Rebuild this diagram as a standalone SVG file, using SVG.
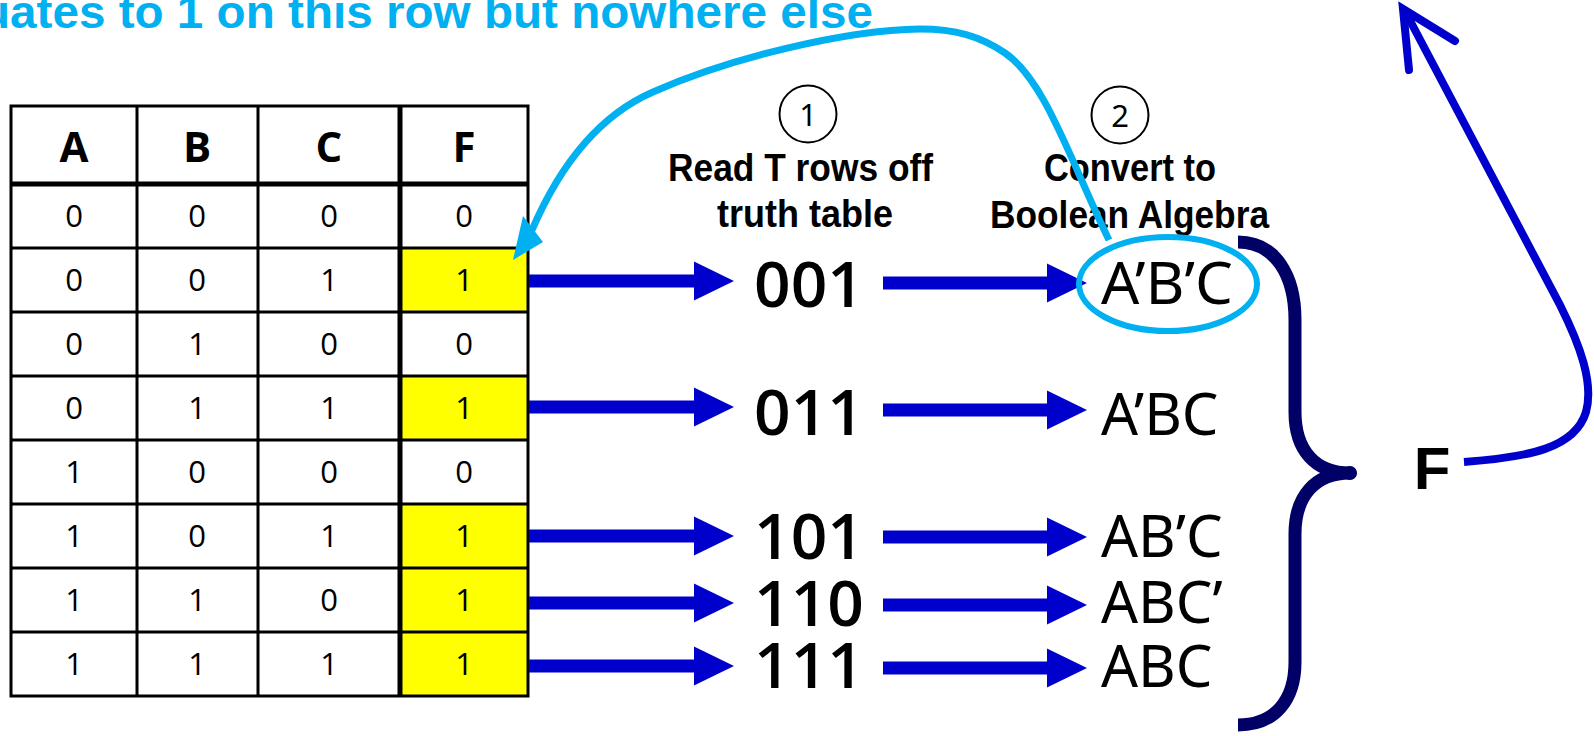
<svg xmlns="http://www.w3.org/2000/svg" width="1594" height="736" viewBox="0 0 1594 736">
<style>
.cell{font-family:"Open Sans","Noto Sans",sans-serif;font-size:31px;text-anchor:middle;fill:#000}
.hdr{font-family:"Open Sans","Noto Sans",sans-serif;font-size:42px;font-weight:bold;text-anchor:middle;fill:#000}
.bits{font-family:"Open Sans","Noto Sans",sans-serif;font-size:64px;font-weight:600;text-anchor:middle;fill:#000}
.term{font-family:"Noto Sans","Open Sans",sans-serif;font-size:58px;fill:#000}
.label{font-family:"Liberation Sans",Arial,sans-serif;font-size:38px;font-weight:bold;fill:#000}
.num{font-family:"Noto Sans","Open Sans",sans-serif;font-size:31px;text-anchor:middle;fill:#000}
.thin{stroke:#000;stroke-width:3;fill:none}
.thick{stroke:#000;stroke-width:5;fill:none}
.yel{fill:#FFFF00}
.shaft{stroke:#0000CC;stroke-width:13;fill:none}
.headc{fill:#0000CC}
</style>
<defs>
<polygon id="ah" class="headc" points="0,-19.5 40,0 0,19.5"/>
</defs>
<rect width="1594" height="736" fill="#fff"/>

<g id="caption">
<text x="-19" y="28" font-family="Liberation Sans, Arial, sans-serif" font-size="46" font-weight="bold" fill="#00B0F0" textLength="892" lengthAdjust="spacingAndGlyphs">uates to 1 on this row but nowhere else</text>
</g>

<g id="truth-table">
<rect class="yel" x="401" y="248" width="127" height="64"/>
<rect class="yel" x="401" y="376" width="127" height="64"/>
<rect class="yel" x="401" y="504" width="127" height="192"/>
<rect class="thin" x="11" y="106" width="517" height="590"/>
<path class="thin" d="M137 106V696M258 106V696M11 248H528M11 312H528M11 376H528M11 440H528M11 504H528M11 568H528M11 632H528"/>
<path class="thick" d="M400 106V696M11 184H528"/>
<text class="hdr" x="74" y="162">A</text>
<text class="hdr" x="197" y="162">B</text>
<text class="hdr" x="329" y="162">C</text>
<text class="hdr" x="464" y="162">F</text>
<g class="cell">
<text x="74" y="227">0</text><text x="197" y="227">0</text><text x="329" y="227">0</text><text x="464" y="227">0</text>
<text x="74" y="291">0</text><text x="197" y="291">0</text><text x="329" y="291">1</text><text x="464" y="291">1</text>
<text x="74" y="355">0</text><text x="197" y="355">1</text><text x="329" y="355">0</text><text x="464" y="355">0</text>
<text x="74" y="419">0</text><text x="197" y="419">1</text><text x="329" y="419">1</text><text x="464" y="419">1</text>
<text x="74" y="483">1</text><text x="197" y="483">0</text><text x="329" y="483">0</text><text x="464" y="483">0</text>
<text x="74" y="547">1</text><text x="197" y="547">0</text><text x="329" y="547">1</text><text x="464" y="547">1</text>
<text x="74" y="611">1</text><text x="197" y="611">1</text><text x="329" y="611">0</text><text x="464" y="611">1</text>
<text x="74" y="675">1</text><text x="197" y="675">1</text><text x="329" y="675">1</text><text x="464" y="675">1</text>
</g>
</g>

<g id="step1">
<circle cx="808" cy="114" r="28.5" fill="none" stroke="#000" stroke-width="2"/>
<text class="num" x="808" y="126">1</text>
<text class="label" x="668" y="181" textLength="265" lengthAdjust="spacingAndGlyphs">Read T rows off</text>
<text class="label" x="717" y="227" textLength="176" lengthAdjust="spacingAndGlyphs">truth table</text>
</g>

<g id="step2">
<circle cx="1120" cy="115" r="28.5" fill="none" stroke="#000" stroke-width="2"/>
<text class="num" x="1120" y="127">2</text>
<text class="label" x="1044" y="181" textLength="172" lengthAdjust="spacingAndGlyphs">Convert to</text>
<text class="label" x="990" y="228" textLength="279" lengthAdjust="spacingAndGlyphs">Boolean Algebra</text>
</g>

<g id="bit-patterns">
<text class="bits" x="809" y="307">001</text>
<text class="bits" x="809" y="435">011</text>
<text class="bits" x="809" y="559">101</text>
<text class="bits" x="809" y="626">110</text>
<text class="bits" x="809" y="688">111</text>
</g>

<g id="terms">
<text class="term" x="1101" y="304" textLength="132" lengthAdjust="spacingAndGlyphs">A’B’C</text>
<text class="term" x="1101" y="435">A’BC</text>
<text class="term" x="1101" y="557">AB’C</text>
<text class="term" x="1101" y="623">ABC’</text>
<text class="term" x="1101" y="687">ABC</text>
</g>

<g id="F-label">
<text x="1432" y="489" font-family="Liberation Sans, Arial, sans-serif" font-size="60" font-weight="bold" text-anchor="middle" fill="#000">F</text>
</g>

<g id="connectors">
<path class="shaft" d="M529 281H696M529 407H696M529 536H696M529 603H696M529 666H696"/>
<use href="#ah" x="694" y="281"/>
<use href="#ah" x="694" y="407"/>
<use href="#ah" x="694" y="536"/>
<use href="#ah" x="694" y="603"/>
<use href="#ah" x="694" y="666"/>
<path class="shaft" d="M883 283H1049M883 410H1049M883 537H1049M883 605H1049M883 668H1049"/>
<use href="#ah" x="1047" y="283"/>
<use href="#ah" x="1047" y="410"/>
<use href="#ah" x="1047" y="537"/>
<use href="#ah" x="1047" y="605"/>
<use href="#ah" x="1047" y="668"/>

<ellipse cx="1168" cy="284" rx="89" ry="47" fill="none" stroke="#00B0F0" stroke-width="6"/>
<path d="M1109 240C1070 160 1045 80 1005 53C980 36 955 29 920 29C845 30 730 58 653 92C600 115 560 165 532 230" fill="none" stroke="#00B0F0" stroke-width="7"/>
<polygon points="513,260 523,216 543,242" fill="#00B0F0"/>

<path d="M1238 242C1275 242 1295 275 1295 320V412C1295 450 1315 473 1350 473C1315 473 1295 496 1295 534V662C1295 700 1275 725 1238 725" fill="none" stroke="#000066" stroke-width="13" stroke-linejoin="round"/>
<circle cx="1350" cy="473" r="7" fill="#000066"/>

<path d="M1464 462C1530 457 1575 448 1586 412C1594 383 1580 345 1560 305L1406 13" fill="none" stroke="#0000CC" stroke-width="8"/>
<path d="M1409 70L1403 9L1455 41" fill="none" stroke="#0000CC" stroke-width="8" stroke-linecap="round" stroke-linejoin="miter"/>
</g>
</svg>
